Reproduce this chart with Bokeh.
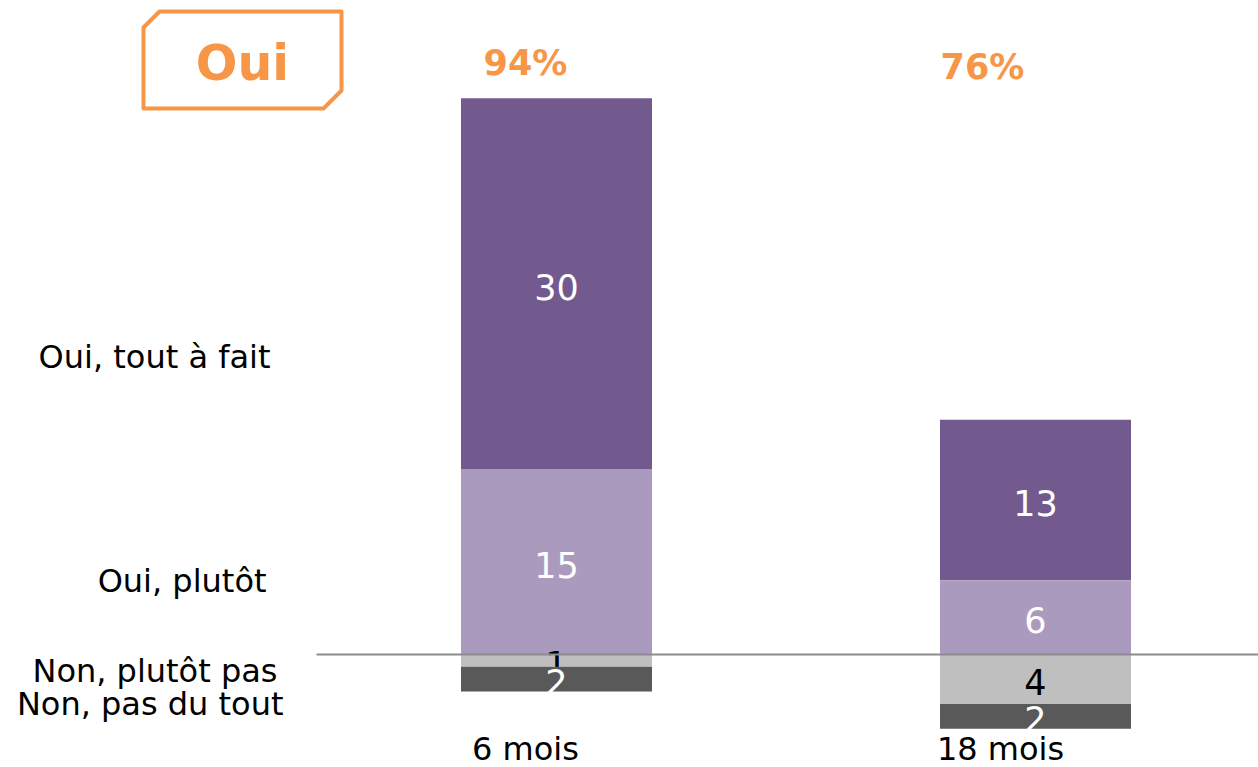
from bokeh.plotting import figure
from bokeh.models import Range1d, ColumnDataSource
from bokeh.core.properties import value
from bokeh.embed import file_html
from bokeh.resources import INLINE

# ---------------- data ----------------
categories = ["6 mois", "18 mois"]
series = ["Oui, tout à fait", "Oui, plutôt", "Non, plutôt pas", "Non, pas du tout"]
oui_tout = [30, 13]
oui_plutot = [15, 6]
non_plutot = [1, 4]
non_pas = [2, 2]
oui_total = ["94%", "76%"]

# ---------------- style ----------------
colors = ["#725A8F", "#AA9BBE", "#BFBFBF", "#595959"]
label_colors = ["white", "white", "black", "white"]
ORANGE = "#F79646"
FONT = value("DejaVu Sans")

W, H = 1258, 767
PX_PER_UNIT = 12.36      # vertical scale
BAR_SPACING_PX = 479     # horizontal distance between bar centres
X0_PX, Y0_PX = 556, 654  # picture position of first bar centre / baseline
PAGE_OFF = 0

def X(px):
    return (px - X0_PX) / BAR_SPACING_PX

def Y(py):
    return (Y0_PX - py) / PX_PER_UNIT

p = figure(width=W, height=H,
           x_range=Range1d(X(PAGE_OFF), X(PAGE_OFF + W)),
           y_range=Range1d(Y(PAGE_OFF + H), Y(PAGE_OFF)),
           x_axis_type=None, y_axis_type=None,
           output_backend="svg", toolbar_location=None, min_border=0)
p.grid.visible = False
p.outline_line_color = None
p.background_fill_color = "white"

idx = list(range(len(categories)))

seg_vals = {1: oui_plutot, 0: oui_tout, 2: non_plutot, 3: non_pas}

bottoms, tops = {}, {}
base = [0] * len(idx)
for s, vals in [(1, oui_plutot), (0, oui_tout)]:
    bottoms[s] = list(base)
    tops[s] = [b + v for b, v in zip(base, vals)]
    base = tops[s]
base = [0] * len(idx)
for s, vals in [(2, non_plutot), (3, non_pas)]:
    tops[s] = list(base)
    bottoms[s] = [b - v for b, v in zip(base, vals)]
    base = bottoms[s]

BAR_W = 191 / BAR_SPACING_PX
for s in range(4):
    src = ColumnDataSource(dict(x=idx, top=tops[s], bottom=bottoms[s],
                                mid=[(t + b) / 2 for t, b in zip(tops[s], bottoms[s])],
                                lab=[str(v) for v in seg_vals[s]]))
    p.vbar(x="x", top="top", bottom="bottom", width=BAR_W, source=src,
           fill_color=colors[s], line_color=None)
    p.text(x="x", y="mid", text="lab", source=src, text_align="center",
           text_baseline="middle", y_offset=3, text_font=FONT,
           text_font_size="35px", text_color=label_colors[s])

# baseline
p.segment(x0=[X(316)], x1=[X(PAGE_OFF + W)], y0=[0], y1=[0],
          line_color="#8C8C8C", line_width=2)

# category labels
p.text(x=idx, y=[Y(748)] * len(idx), text=categories, x_offset=[-31, -35],
       text_align="center", text_baseline="middle", text_font=FONT,
       text_font_size="32px", text_color="black")

# percentages (Oui total)
p.text(x=idx, y=[Y(62), Y(66)], text=oui_total, x_offset=[-31, -53],
       text_align="center", text_baseline="middle", text_font=FONT,
       text_font_size="35px", text_font_style="bold", text_color=ORANGE)

# series labels on the left
lab_right = [270, 266, 277, 283]
lab_y = [356, 580, 670, 703]
p.text(x=[X(r) for r in lab_right], y=[Y(v) for v in lab_y], text=series,
       text_align="right", text_baseline="middle", text_font=FONT,
       text_font_size="32px", text_color="black")

# "Oui" box with cut corners
box_px = [(143, 27), (159, 11), (341, 11), (341, 90), (323, 108), (143, 108)]
p.patch(x=[X(a) for a, b in box_px], y=[Y(b) for a, b in box_px],
        fill_color=None, line_color=ORANGE, line_width=4, line_join="round")
p.text(x=[X(242)], y=[Y(63)], text=["Oui"], text_align="center",
       text_baseline="middle", text_font=FONT, text_font_size="49px",
       text_font_style="bold", text_color=ORANGE)

open("out.html", "w").write(file_html(p, INLINE))
